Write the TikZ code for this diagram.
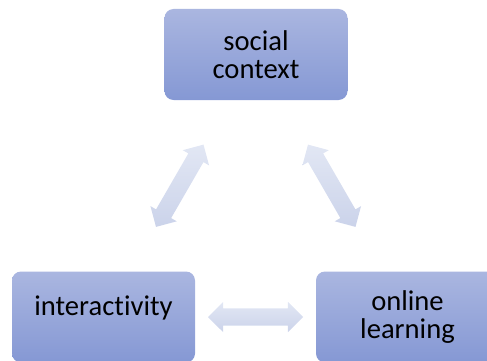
\documentclass[tikz,border=0pt]{standalone}
\usepackage{fontspec}
\setmainfont{Carlito}[Ligatures=NoCommon]
\usetikzlibrary{calc}
\usetikzlibrary{shapes.arrows}
\definecolor{boxtop}{RGB}{170,182,224}
\definecolor{boxbottom}{RGB}{133,152,212}
\definecolor{arrowlight}{RGB}{226,231,244}
\definecolor{arrowdark}{RGB}{203,211,234}
\tikzstyle{topicbox}=[rounded corners=9pt,minimum width=183pt,minimum height=91pt,
  inner sep=0pt,top color=boxtop,bottom color=boxbottom,align=center,
  font=\fontsize{28.6}{28}\selectfont]
\tikzstyle{linkarrow}=[double arrow,minimum height=95pt,inner xsep=0pt,
  inner ysep=8.5pt,double arrow head extend=6.5pt,top color=arrowlight,
  bottom color=arrowdark]

\begin{document}
\begin{tikzpicture}[x=1pt,y=-1pt]
  \useasboundingbox (0,0) rectangle (487,361);
  
  \node[topicbox] (social) at (256,54.5) {social\\context};
  \node[topicbox,text height=18pt,text depth=22pt] (inter) at (103.5,317) {interactivity};
  \node[topicbox] (online) at (407.5,317) {online\\learning};
  
  \node[linkarrow,rotate=60] at ($(inter)!0.5!(social)$) {};
  \node[linkarrow,rotate=-60] at ($(online)!0.5!(social)$) {};
  \node[linkarrow] at ($(inter)!0.5!(online)$) {};
  
\end{tikzpicture}
\end{document}
